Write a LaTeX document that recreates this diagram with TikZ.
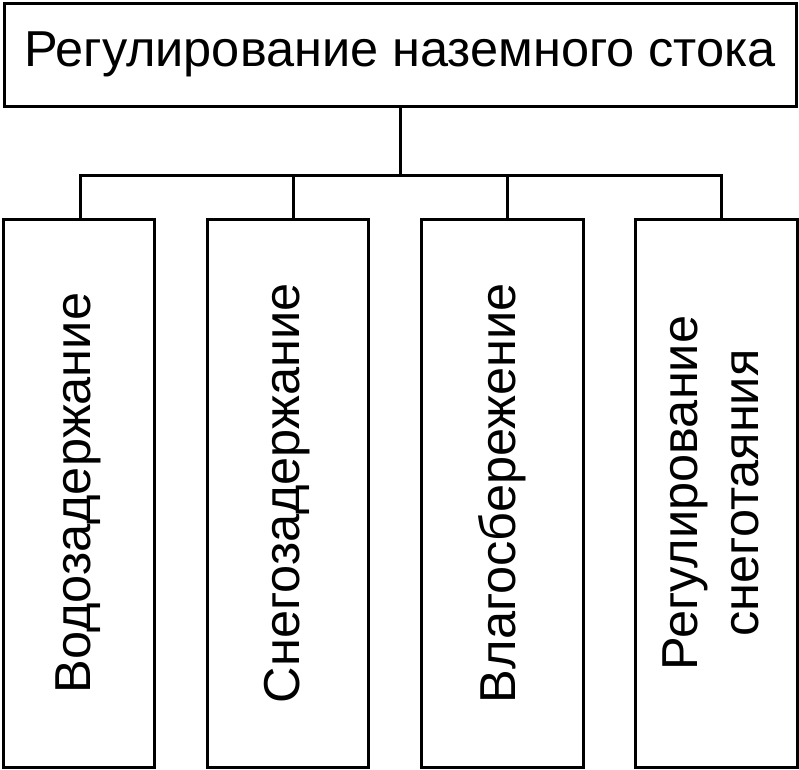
\documentclass[tikz,border=0pt]{standalone}
\usepackage{fontspec}
\setmainfont{Liberation Sans}
\usepackage{graphicx}
\usetikzlibrary{calc}

\begin{document}
\begin{tikzpicture}[
    x=1pt, y=-1pt,
    box/.style={draw, line width=3pt, inner sep=0pt, minimum height=548},
    wire/.style={line width=3pt},
    font=\fontsize{50.5}{61}\selectfont
]
    \useasboundingbox (0,0) rectangle (799,769);

    % главный блок
    \node[draw, line width=3pt, minimum width=792, minimum height=103] (top) at (400,54.5)
        {Регулирование наземного стока};

    % 4 блока снизу
    \node[box, minimum width=151] (b1) at (78.5,493) {\rotatebox{90}{Водозадержание}};
    \node[box, minimum width=161] (b2) at (287.5,493) {\rotatebox{90}{Снегозадержание}};
    \node[box, minimum width=162] (b3) at (502,493) {\rotatebox{90}{Влагосбережение}};
    \node[box, minimum width=162] (b4) at (716,493)
        {\rotatebox{90}{\begin{tabular}{@{}c@{}}Регулирование\\снеготаяния\end{tabular}}};

    % соединения
    \coordinate (bus) at (400,175);
    \draw[wire] (top.south) -- (bus);
    \foreach \b/\dx in {b1/1.5, b2/5.5, b3/5, b4/5}
        \draw[wire] (bus) -| ([xshift=\dx]\b.north);

\end{tikzpicture}
\end{document}
